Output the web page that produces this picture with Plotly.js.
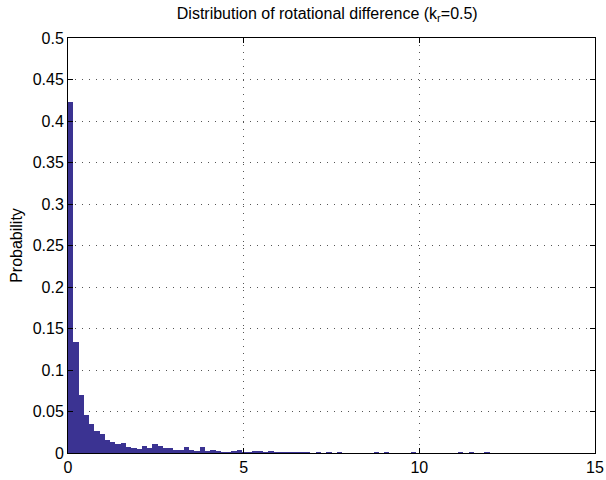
<!DOCTYPE html>
<html>
<head>
<meta charset="utf-8">
<script src="https://cdn.plot.ly/plotly-3.0.1.min.js"></script>
<style>html,body{margin:0;padding:0;background:#fff;}#chart{width:606px;height:480px;}</style>
</head>
<body>
<div id="chart"></div>
<script>
// Histogram of rotational difference, 100 bins of width 0.15 over [0, 15]
var binWidth = 0.15;
var probability = [
  0.423, 0.134, 0.070, 0.046, 0.035, 0.027, 0.0225, 0.0157, 0.0129, 0.0108,
  0.0124, 0.0076, 0.0057, 0.0045, 0.0084, 0.0064, 0.0112, 0.0084, 0.0060, 0.0057,
  0.0032, 0.0032, 0.0069, 0.0036, 0.0030, 0.0069, 0.0028, 0.0034, 0.0028, 0.0016,
  0.0016, 0.0030, 0.0033, 0.0016, 0.0012, 0.0020, 0.0030, 0.0016, 0.0020, 0.0015,
  0.0012, 0.0015, 0.0008, 0.0010, 0.0008, 0.0015, 0.0006, 0.0008, 0.0005, 0.0008,
  0.0005, 0.0008, 0.0006, 0.0005, 0.0005, 0.0005, 0.0005, 0.0005, 0.0012, 0.0005,
  0.0010, 0.0005, 0.0005, 0.0005, 0.0005, 0.0010, 0.0005, 0.0005, 0.0005, 0.0005,
  0.0005, 0.0005, 0.0005, 0.0005, 0.0012, 0.0005, 0.0010, 0.0005, 0.0005, 0.0012,
  0.0005, 0.0005, 0.0005, 0.0005, 0.0005, 0.0005, 0.0005, 0.0005, 0.0005, 0.0005,
  0.0005, 0.0005, 0.0005, 0.0005, 0.0005, 0.0005, 0.0005, 0.0005, 0.0005, 0.0005
];
var xTicks = [0, 5, 10, 15];
var xTickLabels = ['0', '5', '10', '15'];
var yTicks = [0, 0.05, 0.1, 0.15, 0.2, 0.25, 0.3, 0.35, 0.4, 0.45, 0.5];
var yTickLabels = ['0', '0.05', '0.1', '0.15', '0.2', '0.25', '0.3', '0.35', '0.4', '0.45', '0.5'];
var titleText = 'Distribution of rotational difference (k<sub>r</sub>=0.5)';
var yTitle = 'Probability';

var binCenters = probability.map(function (_, i) { return binWidth * (i + 0.5); });

var trace = {
  type: 'bar',
  x: binCenters,
  y: probability,
  width: binWidth,
  marker: { color: '#3b3392', line: { width: 0 } },
  hoverinfo: 'skip'
};

var font = { family: 'Liberation Sans, Arial, Helvetica, sans-serif', size: 16, color: '#000' };

var layout = {
  width: 606,
  height: 480,
  margin: { l: 68, r: 11, t: 38, b: 27 },
  paper_bgcolor: '#fff',
  plot_bgcolor: '#fff',
  showlegend: false,
  bargap: 0,
  font: font,
  title: {
    text: titleText,
    font: { family: font.family, size: 16, color: '#000' },
    x: 0.54, xanchor: 'center',
    y: 0.972, yanchor: 'middle'
  },
  xaxis: {
    range: [0, 15],
    tickvals: xTicks,
    ticktext: xTickLabels,
    ticks: 'inside',
    ticklen: 5,
    tickcolor: '#000',
    showline: true,
    linecolor: '#000',
    linewidth: 1,
    mirror: 'ticks',
    showgrid: true,
    gridcolor: '#555',
    griddash: '1px,6px',
    gridwidth: 1,
    zeroline: false,
    tickfont: font,
    fixedrange: true
  },
  yaxis: {
    range: [0, 0.5],
    tickvals: yTicks,
    ticktext: yTickLabels,
    ticks: 'inside',
    ticklen: 5,
    tickcolor: '#000',
    showline: true,
    linecolor: '#000',
    linewidth: 1,
    mirror: 'ticks',
    showgrid: true,
    gridcolor: '#555',
    griddash: '1px,6px',
    gridwidth: 1,
    zeroline: false,
    tickfont: font,
    title: { text: yTitle, font: font, standoff: 6 },
    fixedrange: true
  }
};

Plotly.newPlot('chart', [trace], layout, { displayModeBar: false, staticPlot: true });
</script>
</body>
</html>
